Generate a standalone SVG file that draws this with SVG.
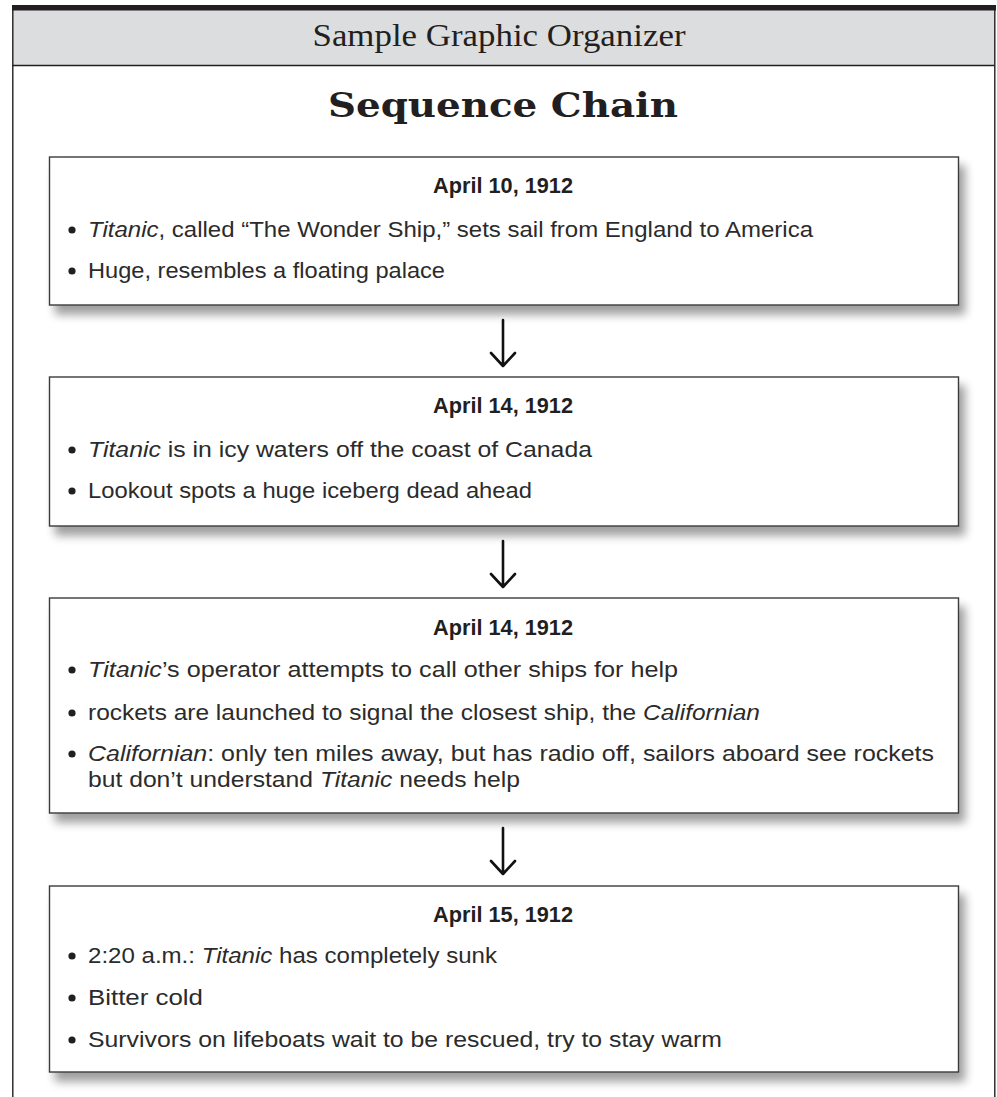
<svg xmlns="http://www.w3.org/2000/svg" width="997" height="1097" viewBox="0 0 997 1097">
<style>
.frame{fill:none;stroke:#231f20;stroke-width:1.4}
.box{fill:#ffffff;stroke:#3a3a3a;stroke-width:1.4}
.hd{font-family:"Liberation Sans",Arial,sans-serif;font-size:22px;font-weight:bold;fill:#231f20;text-anchor:middle}
.bt{font-family:"Liberation Sans",Arial,sans-serif;font-size:22px;fill:#2b2b2b}
.it{font-style:italic}
.dot{fill:#231f20}
.arr{fill:none;stroke:#111;stroke-width:2.6;stroke-linecap:round;stroke-linejoin:round}
</style>
<defs>
<filter id="sh" x="-5%" y="-10%" width="115%" height="135%">
<feGaussianBlur in="SourceAlpha" stdDeviation="5"/>
<feOffset dx="6" dy="9" result="b"/>
<feComponentTransfer><feFuncA type="linear" slope="0.38"/></feComponentTransfer>
<feMerge><feMergeNode/><feMergeNode in="SourceGraphic"/></feMerge>
</filter>
</defs>
<rect width="997" height="1097" fill="#ffffff"/>
<g id="header">
<rect x="12.5" y="10" width="982" height="55.5" fill="#dcdddf"/>
<rect x="12" y="5" width="984" height="5.5" fill="#231f20"/>
<line x1="12.5" y1="65.5" x2="994.5" y2="65.5" class="frame"/>
<line x1="12.8" y1="10" x2="12.8" y2="1097" class="frame"/>
<line x1="994.8" y1="10" x2="994.8" y2="1097" class="frame"/>
<text x="499" y="46" font-family="'Liberation Serif',serif" font-size="31" fill="#231f20" text-anchor="middle" textLength="373" lengthAdjust="spacingAndGlyphs">Sample Graphic Organizer</text>
</g>
<g id="title">
<text x="503" y="117" font-family="'DejaVu Serif',serif" font-size="34" font-weight="bold" fill="#231f20" text-anchor="middle" textLength="350" lengthAdjust="spacingAndGlyphs">Sequence Chain</text>
</g>
<g id="node1">
<rect x="49.5" y="157" width="909" height="148" class="box" filter="url(#sh)"/>
<text x="503" y="193" class="hd" textLength="140" lengthAdjust="spacingAndGlyphs">April 10, 1912</text>
<circle cx="72" cy="230" r="3.6" class="dot"/>
<text x="88" y="237" class="bt" textLength="725" lengthAdjust="spacingAndGlyphs"><tspan class="it">Titanic</tspan>, called “The Wonder Ship,” sets sail from England to America</text>
<circle cx="72" cy="271" r="3.6" class="dot"/>
<text x="88" y="278" class="bt" textLength="357" lengthAdjust="spacingAndGlyphs">Huge, resembles a floating palace</text>
</g>
<g id="node2">
<rect x="49.5" y="377" width="909" height="149" class="box" filter="url(#sh)"/>
<text x="503" y="413" class="hd" textLength="140" lengthAdjust="spacingAndGlyphs">April 14, 1912</text>
<circle cx="72" cy="450" r="3.6" class="dot"/>
<text x="88" y="457" class="bt" textLength="504" lengthAdjust="spacingAndGlyphs"><tspan class="it">Titanic</tspan> is in icy waters off the coast of Canada</text>
<circle cx="72" cy="491" r="3.6" class="dot"/>
<text x="88" y="498" class="bt" textLength="444" lengthAdjust="spacingAndGlyphs">Lookout spots a huge iceberg dead ahead</text>
</g>
<g id="node3">
<rect x="49.5" y="598" width="909" height="215" class="box" filter="url(#sh)"/>
<text x="503" y="635" class="hd" textLength="140" lengthAdjust="spacingAndGlyphs">April 14, 1912</text>
<circle cx="72" cy="670" r="3.6" class="dot"/>
<text x="88" y="677" class="bt" textLength="590" lengthAdjust="spacingAndGlyphs"><tspan class="it">Titanic</tspan>’s operator attempts to call other ships for help</text>
<circle cx="72" cy="713" r="3.6" class="dot"/>
<text x="88" y="720" class="bt" textLength="672" lengthAdjust="spacingAndGlyphs">rockets are launched to signal the closest ship, the <tspan class="it">Californian</tspan></text>
<circle cx="72" cy="754" r="3.6" class="dot"/>
<text x="88" y="761" class="bt" textLength="846" lengthAdjust="spacingAndGlyphs"><tspan class="it">Californian</tspan>: only ten miles away, but has radio off, sailors aboard see rockets</text>
<text x="88" y="787" class="bt" textLength="432" lengthAdjust="spacingAndGlyphs">but don’t understand <tspan class="it">Titanic</tspan> needs help</text>
</g>
<g id="node4">
<rect x="49.5" y="886" width="909" height="186" class="box" filter="url(#sh)"/>
<text x="503" y="922" class="hd" textLength="140" lengthAdjust="spacingAndGlyphs">April 15, 1912</text>
<circle cx="72" cy="956" r="3.6" class="dot"/>
<text x="88" y="963" class="bt" textLength="409" lengthAdjust="spacingAndGlyphs">2:20 a.m.: <tspan class="it">Titanic</tspan> has completely sunk</text>
<circle cx="72" cy="998" r="3.6" class="dot"/>
<text x="88" y="1005" class="bt" textLength="115" lengthAdjust="spacingAndGlyphs">Bitter cold</text>
<circle cx="72" cy="1040" r="3.6" class="dot"/>
<text x="88" y="1047" class="bt" textLength="634" lengthAdjust="spacingAndGlyphs">Survivors on lifeboats wait to be rescued, try to stay warm</text>
</g>
<g id="connectors">
<path class="arr" d="M503,320 V366 M491,353 L503,366 L515,353"/>
<path class="arr" d="M503,541 V587 M491,574 L503,587 L515,574"/>
<path class="arr" d="M503,828 V874 M491,861 L503,874 L515,861"/>
</g>
</svg>
